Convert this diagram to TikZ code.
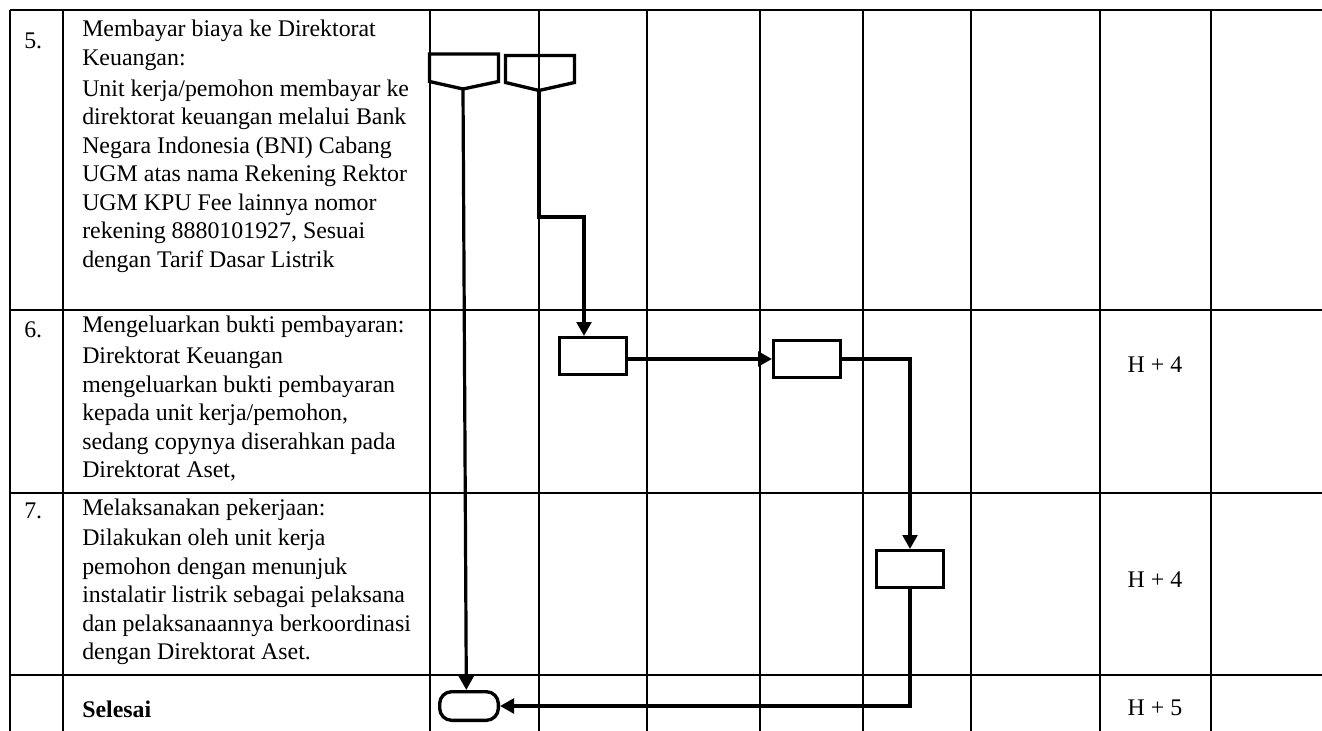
\documentclass[tikz,border=0pt]{standalone}
\usepackage{fontspec}
\setmainfont{Liberation Serif}
\usetikzlibrary{arrows.meta}
\newcommand{\celltext}[1]{\parbox[t]{340pt}{\raggedright #1}}
\begin{document}
\begin{tikzpicture}[x=0.75pt,y=-0.75pt,
  gridline/.style={line width=1.4pt},
  shp/.style={draw, line width=2.5pt, line join=miter},
  procbox/.style={shp, rectangle, minimum width=50pt, minimum height=27.5pt, inner sep=0pt},
  termbox/.style={shp, rectangle, rounded corners=9pt, minimum width=44pt, minimum height=21.5pt, inner sep=0pt},
  flow/.style={line width=2.4pt, -{Triangle[length=10.5pt,width=11pt]}},
  txt/.style={anchor=base west, inner sep=0pt, font=\fontsize{17.9pt}{21.4pt}\selectfont},
  hval/.style={anchor=base, inner sep=0pt, font=\fontsize{17.9pt}{21.4pt}\selectfont}
]
\useasboundingbox (0,0) rectangle (1322,731);
% grid
\foreach \x in {10,63,430,539,647,760,863,971,1100,1211}
  \draw[gridline] (\x,10) -- (\x,731);
\foreach \y in {10,310,493,675}
  \draw[gridline] (10,\y) -- (1322,\y);

% text column
\node[txt] (n5) at (24,49) {5.};
\node[txt] (t5) at (82,37) {\celltext{Membayar biaya ke Direktorat\\ Keuangan:\\[1.5pt]
 Unit kerja/pemohon membayar ke\\ direktorat keuangan melalui Bank\\ Negara Indonesia (BNI) Cabang\\
 UGM atas nama Rekening Rektor\\ UGM KPU Fee lainnya nomor\\ rekening 8880101927, Sesuai\\ dengan Tarif Dasar Listrik}};
\node[txt] (n6) at (24,337) {6.};
\node[txt] (t6) at (82,333) {\celltext{Mengeluarkan bukti pembayaran:\\[1.5pt]
 Direktorat Keuangan\\ mengeluarkan bukti pembayaran\\ kepada unit kerja/pemohon,\\
 sedang copynya diserahkan pada\\ Direktorat Aset,}};
\node[txt] (n7) at (24,518) {7.};
\node[txt] (t7) at (82,515) {\celltext{Melaksanakan pekerjaan:\\[1.5pt]
 Dilakukan oleh unit kerja\\ pemohon dengan menunjuk\\ instalatir listrik sebagai pelaksana\\
 dan pelaksanaannya berkoordinasi\\ dengan Direktorat Aset.}};
\node[txt] (t8) at (82,717) {\textbf{Selesai}};

% time column
\node[hval] (h6) at (1155,372) {H + 4};
\node[hval] (h7) at (1155,587) {H + 4};
\node[hval] (h8) at (1155,715) {H + 5};

% off-page connectors
\draw[shp] (429.5,54) -- (498.5,54) -- (498.5,81.5) -- (463,89) -- (429.5,81.5) -- cycle;
\coordinate (c1) at (463,89);
\draw[shp] (505.5,55.5) -- (574.5,55.5) -- (574.5,82.5) -- (539,90.5) -- (505.5,82.5) -- cycle;
\coordinate (c2) at (539,90.5);

% process boxes and terminator
\node[procbox] (b1) at (593,356) {};
\node[procbox] (b2) at (807,359) {};
\node[procbox] (b3) at (910,569) {};
\node[termbox] (term) at (469,706) {};

% connectors
\coordinate (k1) at (584,217);
\draw[flow] (c1) -- ([xshift=-2pt]term.north);
\draw[flow] (c2) |- (k1) -- (k1 |- b1.north);
\draw[flow] (b1.east |- b2.west) -- (b2.west);
\draw[flow] (b2.east) -| (b3.north);
\draw[flow] (b3.south) |- (term.east);
\end{tikzpicture}
\end{document}
